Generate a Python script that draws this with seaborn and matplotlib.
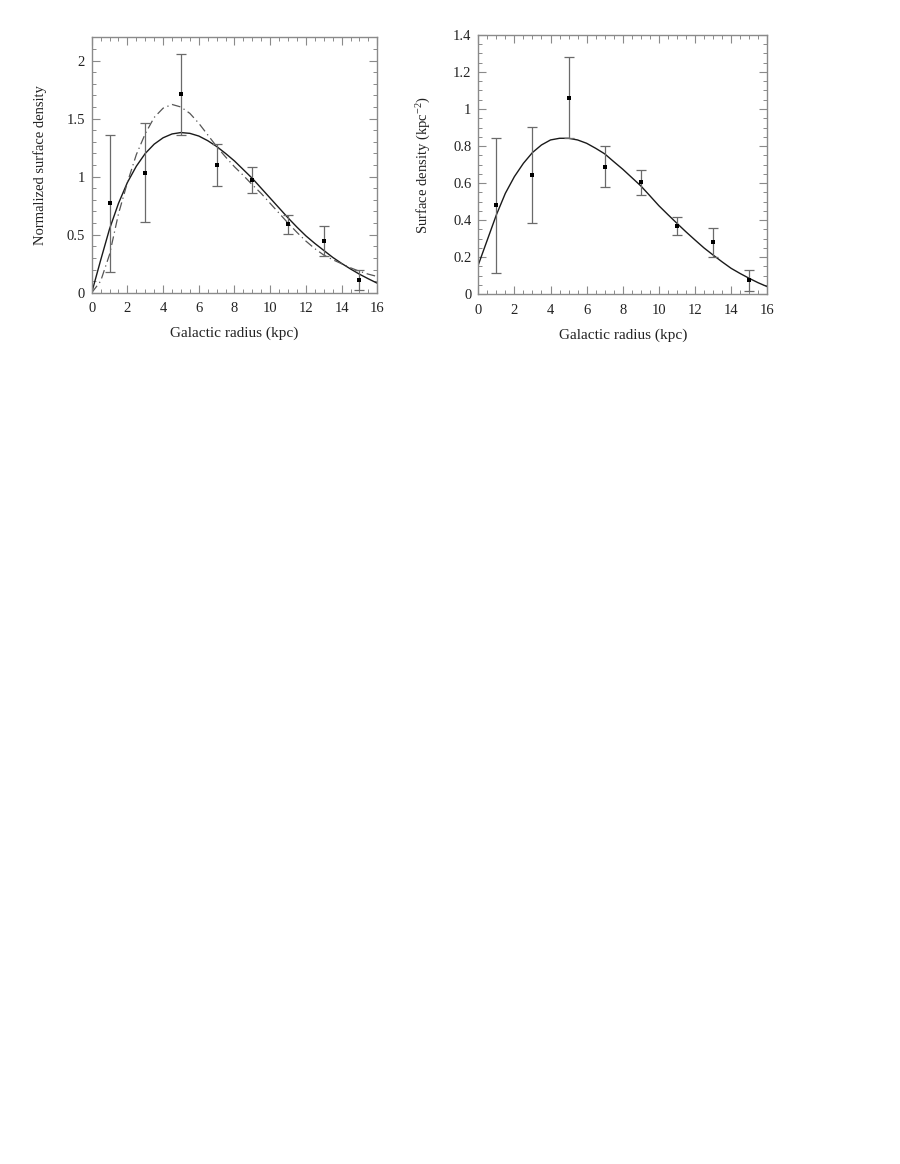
import numpy as np
import pandas as pd
import matplotlib
matplotlib.use("Agg")
import matplotlib.pyplot as plt
from matplotlib.ticker import MultipleLocator, FuncFormatter
import seaborn as sns

# ---------------- data ----------------
radius_pts = [1, 3, 5, 7, 9, 11, 13, 15]

# left panel: normalized surface density
norm_val = [0.77, 1.033, 1.708, 1.104, 0.975, 0.589, 0.443, 0.112]
norm_lo = [0.178, 0.61, 1.357, 0.923, 0.863, 0.506, 0.316, 0.026]
norm_hi = [1.361, 1.458, 2.059, 1.28, 1.081, 0.673, 0.575, 0.193]

curve_r = [0, 0.5, 1, 1.5, 2, 2.5, 3, 3.5, 4, 4.5, 5, 5.5, 6, 6.5, 7, 7.5, 8,
           8.5, 9, 9.5, 10, 10.5, 11, 11.5, 12, 12.5, 13, 13.5, 14, 14.5, 15,
           15.5, 16]
norm_fit_solid = [0, 0.28, 0.55, 0.77, 0.95, 1.09, 1.20, 1.28, 1.335, 1.368,
                  1.38, 1.373, 1.35, 1.31, 1.26, 1.20, 1.135, 1.06, 0.985,
                  0.90, 0.815, 0.73, 0.645, 0.565, 0.49, 0.425, 0.365, 0.305,
                  0.253, 0.205, 0.16, 0.12, 0.082]
norm_fit_dashdot = [0, 0.10, 0.33, 0.68, 0.95, 1.19, 1.37, 1.51, 1.59, 1.622,
                    1.60, 1.545, 1.46, 1.36, 1.26, 1.17, 1.085, 1.01, 0.93,
                    0.855, 0.77, 0.685, 0.60, 0.52, 0.445, 0.38, 0.325, 0.285,
                    0.25, 0.215, 0.185, 0.16, 0.14]

# right panel: surface density (kpc^-2)
surf_val = [0.482, 0.642, 1.062, 0.689, 0.606, 0.371, 0.281, 0.076]
surf_lo = [0.113, 0.383, 0.842, 0.579, 0.538, 0.318, 0.20, 0.02]
surf_hi = [0.846, 0.905, 1.28, 0.799, 0.673, 0.419, 0.358, 0.13]
surf_fit = [0.158, 0.293, 0.428, 0.545, 0.635, 0.707, 0.765, 0.806, 0.833,
            0.842, 0.842, 0.833, 0.815, 0.788, 0.758, 0.716, 0.675, 0.63,
            0.585, 0.532, 0.478, 0.43, 0.383, 0.337, 0.293, 0.25, 0.212,
            0.175, 0.14, 0.112, 0.086, 0.062, 0.041]

xlabel = "Galactic radius (kpc)"
ylabel_left = "Normalized surface density"
ylabel_right = "Surface density (kpc$^{-2}$)"

# ---------------- style ----------------
sns.set_theme(style="white")
plt.rcParams["font.family"] = ["Liberation Serif", "DejaVu Serif"]
plt.rcParams["mathtext.fontset"] = "custom"
plt.rcParams["mathtext.rm"] = "Liberation Serif"
plt.rcParams["mathtext.it"] = "Liberation Serif:italic"

FS = 10.5
frame_col = "#8a8a8a"
err_col = "#6a6a6a"
text_col = "#222222"

fig = plt.figure(figsize=(9, 11.64), dpi=100)
axL = fig.add_axes([0.1019, 0.7485, 0.3173, 0.2194])
axR = fig.add_axes([0.5314, 0.7472, 0.3211, 0.2228])

fmt = FuncFormatter(lambda v, p: "%g" % round(v, 6))


def style_axis(ax, ymax, ymaj, ymin):
    ax.set_xlim(0, 16)
    ax.set_ylim(0, ymax)
    ax.xaxis.set_major_locator(MultipleLocator(2))
    ax.xaxis.set_minor_locator(MultipleLocator(0.5))
    ax.yaxis.set_major_locator(MultipleLocator(ymaj))
    ax.yaxis.set_minor_locator(MultipleLocator(ymin))
    ax.xaxis.set_major_formatter(fmt)
    ax.yaxis.set_major_formatter(fmt)
    ax.tick_params(which="both", direction="in", top=True, right=True,
                   bottom=True, left=True, color=frame_col, labelsize=FS,
                   labelcolor=text_col)
    ax.tick_params(which="major", length=6, width=0.8)
    ax.tick_params(which="minor", length=3, width=0.7)
    ax.tick_params(axis="x", which="major", pad=7)
    ax.tick_params(axis="y", which="major", pad=5)
    for s in ax.spines.values():
        s.set_color(frame_col)
        s.set_linewidth(1.0)
    ax.set_xlabel(xlabel, fontsize=11, color=text_col, labelpad=8)


def draw_points(ax, vals, lo, hi):
    vals = np.asarray(vals)
    yerr = [vals - np.asarray(lo), np.asarray(hi) - vals]
    ax.errorbar(radius_pts, vals, yerr=yerr, fmt="none", ecolor=err_col,
                elinewidth=0.9, capsize=3.5, capthick=0.9, zorder=3)
    sns.scatterplot(x=radius_pts, y=vals, ax=ax, marker="s", s=6,
                    color="black", edgecolor="black", linewidth=0, zorder=4)


# left panel
dfL = pd.DataFrame({"r": curve_r, "solid": norm_fit_solid,
                    "dd": norm_fit_dashdot})
sns.lineplot(data=dfL, x="r", y="solid", ax=axL, color="#1a1a1a",
             linewidth=1.0)
sns.lineplot(data=dfL, x="r", y="dd", ax=axL, color="#555555",
             linewidth=0.9, linestyle=(0, (7, 3, 1, 3)))
draw_points(axL, norm_val, norm_lo, norm_hi)
style_axis(axL, 2.2, 0.5, 0.1)
axL.set_ylabel(ylabel_left, fontsize=FS, color=text_col, labelpad=14)

# right panel
dfR = pd.DataFrame({"r": curve_r, "fit": surf_fit})
sns.lineplot(data=dfR, x="r", y="fit", ax=axR, color="#1a1a1a",
             linewidth=1.0)
draw_points(axR, surf_val, surf_lo, surf_hi)
style_axis(axR, 1.4, 0.2, 0.05)
axR.set_ylabel(ylabel_right, fontsize=FS, color=text_col, labelpad=14)

fig.savefig("out.png", dpi=100)
